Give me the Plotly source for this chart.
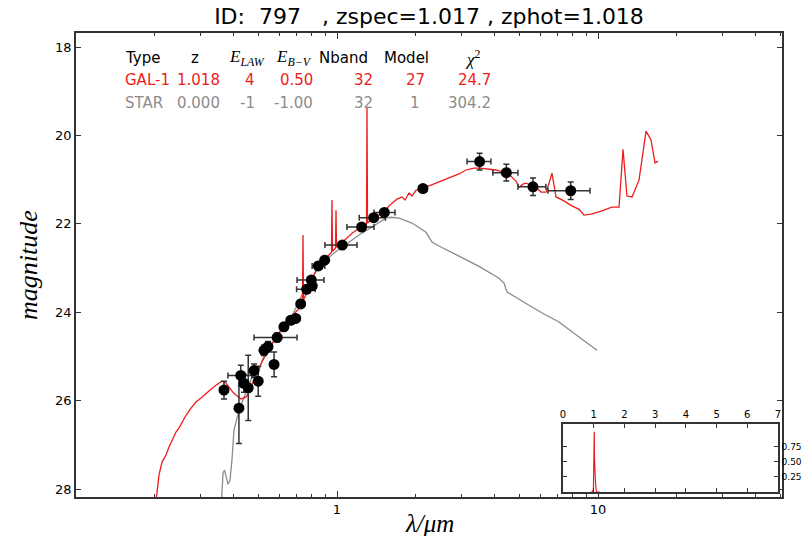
import plotly.graph_objects as go

# ---------------- data ----------------
# GAL-1 best-fit template (wavelength in micron, AB magnitude)
gal_lam = [0.2008, 0.208, 0.2136, 0.2212, 0.2272, 0.2333, 0.2416, 0.2480, 0.2547, 0.2639,
           0.2758, 0.2883, 0.3013, 0.3149, 0.3290, 0.3438, 0.3625, 0.3755, 0.3855, 0.3995,
           0.4102, 0.4287, 0.4480, 0.4600, 0.4682, 0.4893, 0.5114, 0.5346, 0.5587, 0.5838,
           0.6157, 0.6548, 0.6842, 0.7152, 0.7376, 0.7409, 0.7441, 0.7741, 0.8019, 0.8307,
           0.8683, 0.9076, 0.9526, 0.9568, 0.9612, 0.9869, 0.9912, 0.9956, 1.0359, 1.0922,
           1.1417, 1.2143, 1.2973, 1.3030, 1.3090, 1.3738, 1.4486, 1.5406, 1.6244, 1.6977,
           1.7746, 1.8222, 1.8874, 1.9381, 2.0077, 2.1354, 2.2918, 2.4594, 2.7585, 2.9343,
           3.1212, 3.3497, 3.5318, 3.7239, 4.0667, 4.4410, 4.6416, 4.8517, 4.9817, 5.1601,
           5.2986, 5.5375, 5.7876, 6.0479, 6.3211, 6.4907, 6.6650, 6.9035, 7.4080, 7.8818,
           8.4577, 8.8388, 9.3998, 10.09, 11.31, 12.04, 12.47, 12.91, 13.50, 14.36,
           15.28, 15.96, 16.54, 16.98]
gal_mag = [28.48, 27.68, 27.39, 27.23, 27.05, 26.89, 26.71, 26.62, 26.48, 26.33,
           26.17, 26.03, 25.94, 25.83, 25.74, 25.65, 25.56, 25.60, 25.69, 25.81,
           25.87, 25.96, 25.92, 25.81, 25.69, 25.42, 25.17, 24.95, 24.74, 24.56,
           24.38, 24.20, 24.04, 23.91, 23.77, 22.25, 23.72, 23.50, 23.25, 23.05,
           22.89, 22.77, 22.64, 21.46, 22.62, 22.55, 21.69, 22.53, 22.43, 22.32,
           22.21, 22.10, 22.01, 19.38, 21.98, 21.87, 21.80, 21.67, 21.53, 21.44,
           21.39, 21.46, 21.30, 21.37, 21.24, 21.19, 21.12, 21.05, 20.94, 20.87,
           20.78, 20.74, 20.74, 20.76, 20.78, 20.85, 20.92, 21.03, 21.17, 21.10,
           21.08, 21.12, 21.17, 21.28, 21.28, 21.08, 20.85, 21.39, 21.48, 21.58,
           21.67, 21.80, 21.78, 21.73, 21.62, 21.62, 20.31, 21.37, 21.39, 21.01,
           19.90, 20.10, 20.62, 20.58]

# STAR best-fit template
star_lam = [0.3594, 0.3626, 0.3658, 0.3707, 0.3755, 0.3822, 0.3890, 0.3959, 0.4030, 0.4139,
            0.4287, 0.4442, 0.4600, 0.4808, 0.5026, 0.5205, 0.5488, 0.5838, 0.6265, 0.6663,
            0.7026, 0.7342, 0.7675, 0.8019, 0.8457, 0.8995, 0.9739, 1.045, 1.1116, 1.2143,
            1.3620, 1.5406, 1.6102, 1.7281, 1.9381, 2.1928, 2.3120, 2.4594, 2.9343, 3.5005,
            4.1761, 4.3641, 4.4810, 4.7673, 5.4409, 6.2099, 7.0874, 8.4577, 9.9128]
star_mag = [28.48, 28.02, 27.64, 27.57, 27.71, 27.89, 27.80, 27.34, 26.67, 26.39,
            26.10, 25.87, 25.65, 25.35, 25.31, 25.04, 24.81, 24.58, 24.29, 24.13,
            23.86, 23.61, 23.45, 23.23, 23.00, 22.84, 22.66, 22.53, 22.41, 22.25,
            22.07, 21.87, 21.85, 21.87, 21.98, 22.19, 22.41, 22.50, 22.73, 22.96,
            23.23, 23.34, 23.54, 23.63, 23.84, 24.04, 24.22, 24.56, 24.86]

# observed photometry
obs_lam = [0.369, 0.421, 0.428, 0.440, 0.457, 0.481, 0.499, 0.525, 0.544, 0.574,
           0.590, 0.626, 0.665, 0.695, 0.726, 0.765, 0.797, 0.804, 0.848, 0.897,
           1.048, 1.243, 1.382, 1.518, 2.135, 3.52, 4.455, 5.636, 7.86]
obs_mag = [25.76, 26.17, 25.43, 25.61, 25.71, 25.32, 25.56, 24.86, 24.78, 25.18,
           24.57, 24.33, 24.18, 24.14, 23.81, 23.48, 23.27, 23.40, 22.95, 22.82,
           22.48, 22.07, 21.86, 21.74, 21.20, 20.59, 20.84, 21.16, 21.25]
obs_magerr = [0.20, 0.80, 0.23, 0.20, 0.74, 0.15, 0.34, 0.12, 0.12, 0.28,
              0.10, 0.08, 0.08, 0.08, 0.08, 0.08, 0.08, 0.08, 0.08, 0.08,
              0.05, 0.05, 0.05, 0.05, 0.05, 0.19, 0.19, 0.20, 0.20]
obs_lamerr_m = [0.013, 0.0, 0.046, 0.0, 0.0, 0.0, 0.0, 0.0, 0.0, 0.0,
                0.109, 0.0, 0.0, 0.0, 0.0, 0.065, 0.094, 0.0, 0.045, 0.0,
                0.149, 0.151, 0.165, 0.132, 0.08, 0.37, 0.50, 0.70, 1.43]
obs_lamerr_p = [0.013, 0.0, 0.044, 0.0, 0.0, 0.0, 0.0, 0.0, 0.0, 0.0,
                0.113, 0.0, 0.0, 0.0, 0.0, 0.060, 0.095, 0.0, 0.050, 0.0,
                0.145, 0.143, 0.150, 0.150, 0.08, 0.37, 0.48, 0.68, 1.46]

# redshift probability distribution (inset)
pz_z = [0.90, 0.96, 0.99, 1.005, 1.012, 1.018, 1.025, 1.032, 1.040, 1.055, 1.065, 1.09, 1.20]
pz_p = [0.0, 0.0, 0.05, 0.55, 0.95, 1.0, 0.55, 0.25, 0.20, 0.20, 0.10, 0.0, 0.0]

# result table
table_header = ["Type", "z", "<i>E</i><sub><i>LAW</i></sub>", "<i>E</i><sub><i>B\u2212V</i></sub>",
                "Nband", "Model", "<i>\u03c7</i><sup>2</sup>"]
gal_row = ["GAL-1", "1.018", "4", "0.50", "32", "27", "24.7"]
star_row = ["STAR", "0.000", "-1", "-1.00", "32", "1", "304.2"]

title_text = "ID:\u00a0\u00a0797\u00a0\u00a0\u00a0, zspec=1.017 , zphot=1.018"

# ---------------- layout helpers ----------------
W, H = 803, 536
L, R, T, B = 76, 782, 33, 497


def px(x):
    return (x - L) / (R - L)


def py(y):
    return (B - y) / (B - T)


RED = "#ee1c1c"
GRAY = "#8c8c8c"

fig = go.Figure()

fig.add_trace(go.Scatter(x=star_lam, y=star_mag, mode="lines",
                         line=dict(color=GRAY, width=1.3), showlegend=False,
                         xaxis="x", yaxis="y"))
fig.add_trace(go.Scatter(x=gal_lam, y=gal_mag, mode="lines",
                         line=dict(color=RED, width=1.3), showlegend=False,
                         xaxis="x", yaxis="y"))
fig.add_trace(go.Scatter(
    x=obs_lam, y=obs_mag, mode="markers",
    marker=dict(color="black", size=11),
    error_y=dict(type="data", array=obs_magerr, color="#333333", thickness=1.5, width=3),
    error_x=dict(type="data", array=obs_lamerr_p, arrayminus=obs_lamerr_m,
                 color="#333333", thickness=1.5, width=3),
    showlegend=False, xaxis="x", yaxis="y"))

fig.add_trace(go.Scatter(x=pz_z, y=pz_p, mode="lines",
                         line=dict(color=RED, width=1.2), showlegend=False,
                         xaxis="x2", yaxis="y2"))

frame = dict(showline=True, linecolor="#333333", linewidth=1.5, mirror="allticks",
             ticks="inside", tickcolor="#333333", showgrid=False, zeroline=False,
             automargin=False)

minor_vals = [0.2, 0.3, 0.4, 0.5, 0.6, 0.7, 0.8, 0.9,
              2, 3, 4, 5, 6, 7, 8, 9, 20, 30, 40, 50]

annotations = []
# table
rows = [(58, table_header, "black"), (80, gal_row, RED), (103, star_row, GRAY)]
head_x = [123, 195, 247, 294, 343, 406, 472]
head_anchor = ["left", "center", "center", "center", "center", "center", "center"]
val_x = [123, 222, 257, 315, 375, 415, 493]
val_anchor = ["left", "right", "right", "right", "right", "center", "right"]
for i, (yy, cells, col) in enumerate(rows):
    for j, txt in enumerate(cells):
        is_head = i == 0
        xx = head_x[j] if is_head else val_x[j]
        anc = head_anchor[j] if is_head else val_anchor[j]
        fam = "DejaVu Sans"
        if is_head and j in (2, 3, 6):
            fam = "Liberation Serif"
        annotations.append(dict(
            x=px(xx), y=py(yy), xref="paper", yref="paper", text=txt,
            showarrow=False, xanchor=anc, yanchor="middle",
            font=dict(family=fam, size=15 if fam == "DejaVu Sans" else 17, color=col)))

annotations.append(dict(x=px(28), y=0.5, xref="paper", yref="paper",
                        text="<i>magnitude</i>", textangle=-90, showarrow=False,
                        xanchor="center", yanchor="middle",
                        font=dict(family="Liberation Serif", size=26, color="black")))
annotations.append(dict(x=0.5, y=py(523), xref="paper", yref="paper",
                        text="<i>\u03bb/\u03bcm</i>", showarrow=False,
                        xanchor="center", yanchor="middle",
                        font=dict(family="Liberation Serif", size=25, color="black")))

fig.update_layout(
    width=W, height=H,
    margin=dict(l=L, r=W - R, t=T, b=H - B, autoexpand=False),
    paper_bgcolor="white", plot_bgcolor="white",
    title=dict(text=title_text, x=0.5, xref="paper", y=1 - 16 / H, yref="container",
               xanchor="center", yanchor="middle", automargin=False,
               font=dict(family="DejaVu Sans", size=22, color="black")),
    xaxis=dict(type="log", range=[-1.0, 1.705], tickmode="array",
               tickvals=[1, 10], ticktext=["1", "10"], ticklen=6,
               minor=dict(tickmode="array", tickvals=minor_vals, ticks="inside",
                          ticklen=3, tickcolor="#333333"),
               tickfont=dict(family="DejaVu Sans", size=13, color="black"),
               domain=[0, 1], anchor="y", **frame),
    yaxis=dict(range=[28.18, 17.68], tickmode="array",
               tickvals=[18, 20, 22, 24, 26, 28], ticklen=5,
               tickfont=dict(family="DejaVu Sans", size=13, color="black"),
               domain=[0, 1], anchor="x", **frame),
    xaxis2=dict(range=[0, 7], tickmode="array", tickvals=[0, 1, 2, 3, 4, 5, 6, 7],
                side="top", ticklen=4, ticklabelstandoff=0,
                tickfont=dict(family="DejaVu Sans", size=10, color="black"),
                domain=[px(563), px(778)], anchor="y2", **frame),
    yaxis2=dict(range=[0, 1.13], tickmode="array", tickvals=[0.25, 0.5, 0.75],
                ticktext=["0.25", "0.50", "0.75"], side="right", ticklen=4,
                ticklabelstandoff=0,
                tickfont=dict(family="DejaVu Sans", size=9, color="black"),
                domain=[py(492), py(424)], anchor="x2", **frame),
    annotations=annotations,
)

# inset white background
fig.add_shape(type="rect", xref="x2 domain", yref="y2 domain", x0=0, x1=1, y0=0, y1=1,
              fillcolor="white", line=dict(width=0), layer="below")

fig.write_html("out.html")
